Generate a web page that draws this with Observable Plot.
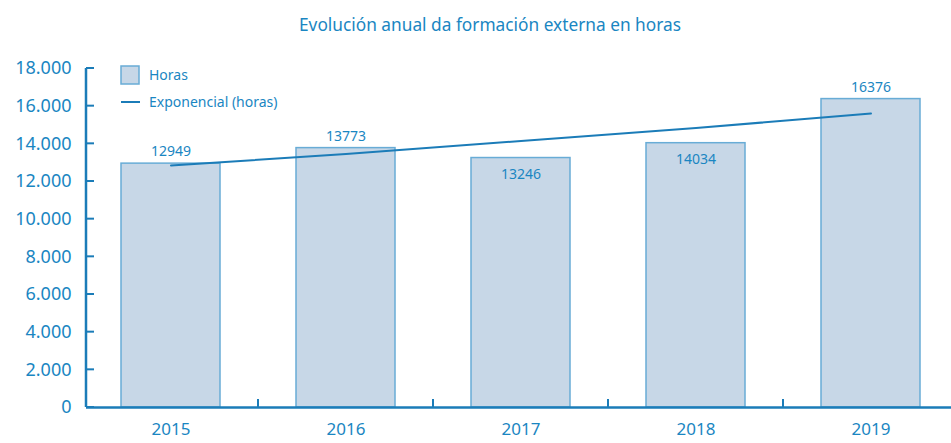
<!DOCTYPE html>
<html>
<head>
<meta charset="utf-8">
<script src="https://cdn.jsdelivr.net/npm/d3@7"></script>
<script src="https://cdn.jsdelivr.net/npm/@observablehq/plot@0.6"></script>
<style>
  html, body { margin: 0; padding: 0; background: #fff; overflow: hidden; }
  #chart svg { display: block; }
</style>
</head>
<body>
<div id="chart"></div>
<script>
const title = "Evolución anual da formación externa en horas";
const years = ["2015", "2016", "2017", "2018", "2019"];
const horas = [12949, 13773, 13246, 14034, 16376];
const trend = [12850, 13460, 14150, 14840, 15610];
const yTicks = [0, 2000, 4000, 6000, 8000, 10000, 12000, 14000, 16000, 18000];
const yTickLabels = ["0", "2.000", "4.000", "6.000", "8.000", "10.000", "12.000", "14.000", "16.000", "18.000"];
const legendLabels = ["Horas", "Exponencial (horas)"];

const blue = "#1a86c2";
const axisBlue = "#1b7cb8";
const barFill = "#c7d7e7";
const barStroke = "#68acd6";
const font = "Noto Sans, Open Sans, sans-serif";

const data = years.map((y, i) => ({year: y, value: horas[i], trend: trend[i], above: horas[i] > trend[i]}));

const W = 951, H = 443, mL = 86, mR = -4, mT = 68, mB = 36;

const plot = Plot.plot({
  width: W, height: H,
  marginLeft: mL, marginRight: mR, marginTop: mT, marginBottom: mB,
  style: {fontFamily: font, color: blue, background: "#fff", overflow: "hidden"},
  x: {domain: years, paddingInner: 0.435, paddingOuter: 0.2},
  y: {domain: [0, 18000]},
  marks: [
    Plot.barY(data, {x: "year", y: "value", fill: barFill, stroke: barStroke, strokeWidth: 1.5}),
    Plot.line(data, {x: "year", y: "trend", stroke: axisBlue, strokeWidth: 2}),
    Plot.text(data.filter(d => d.above), {x: "year", y: "value", text: d => String(d.value), dy: -12, fill: blue, fontSize: 14}),
    Plot.text(data.filter(d => !d.above), {x: "year", y: "value", text: d => String(d.value), dy: 16, fill: blue, fontSize: 14}),
    Plot.axisY({ticks: yTicks, tickFormat: d => yTickLabels[yTicks.indexOf(d)], tickSize: 0, tickPadding: 15, fontSize: 18, fill: blue, label: null}),
    Plot.axisX({tickSize: 0, tickPadding: 15, fontSize: 17, fill: blue, label: null}),
    Plot.ruleY([0], {stroke: axisBlue, strokeWidth: 2.5}),
    Plot.text([title], {frameAnchor: "top", dy: -50, dx: -31, fontSize: 17.3, fill: blue})
  ]
});

document.getElementById("chart").appendChild(plot);

// Decorations derived from the plot's scales: axis line, tick marks, legend
const svg = d3.select(plot);
const xs = plot.scale("x");
const ys = plot.scale("y");
const g = svg.append("g");
const y0 = ys.apply(0);
const yTop = ys.apply(18000);

// y axis line
g.append("line").attr("x1", mL).attr("x2", mL).attr("y1", yTop).attr("y2", y0)
  .attr("stroke", axisBlue).attr("stroke-width", 2.5);
// y tick marks (pointing inward)
yTicks.forEach(t => {
  g.append("line").attr("x1", mL).attr("x2", mL + 8).attr("y1", ys.apply(t)).attr("y2", ys.apply(t))
    .attr("stroke", axisBlue).attr("stroke-width", 2);
});
// x ticks between bands
const gap = xs.step - xs.bandwidth;
years.slice(1).forEach(yr => {
  const xx = xs.apply(yr) - gap / 2;
  g.append("line").attr("x1", xx).attr("x2", xx).attr("y1", y0).attr("y2", y0 - 8)
    .attr("stroke", axisBlue).attr("stroke-width", 2);
});

// legend
const lx = xs.apply(years[0]);
const lg = svg.append("g").attr("font-family", font).attr("font-size", 14).attr("fill", blue).attr("text-anchor", "start");
lg.append("rect").attr("x", lx).attr("y", yTop - 2).attr("width", 18).attr("height", 18)
  .attr("fill", barFill).attr("stroke", barStroke).attr("stroke-width", 1.5);
lg.append("text").attr("x", lx + 28).attr("y", yTop + 7).attr("dy", "0.35em").text(legendLabels[0]);
lg.append("line").attr("x1", lx).attr("x2", lx + 19).attr("y1", yTop + 34).attr("y2", yTop + 34)
  .attr("stroke", axisBlue).attr("stroke-width", 2);
lg.append("text").attr("x", lx + 28).attr("y", yTop + 34).attr("dy", "0.35em").text(legendLabels[1]);
</script>
</body>
</html>
